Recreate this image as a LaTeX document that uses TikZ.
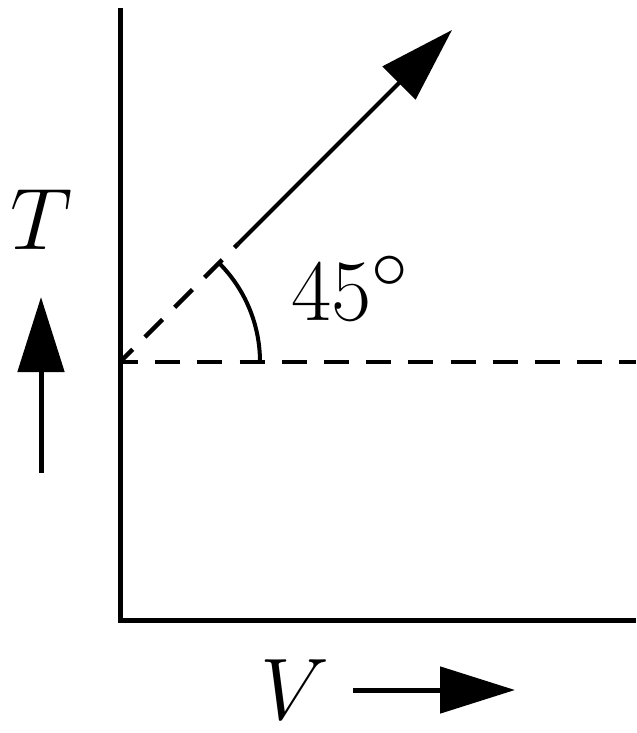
\documentclass[tikz,border=0pt]{standalone}
\usepackage{tikz}
\usetikzlibrary{arrows.meta}

\begin{document}
\begin{tikzpicture}[
  x=0.1mm, y=-0.1mm,
  font=\fontsize{31}{37}\selectfont,
  axis/.style={line width=0.5mm},
  guide/.style={line width=0.45mm, dash pattern=on 2.5mm off 1.72mm, dash phase=0.7mm},
  arr/.style={-{Triangle[length=7.5mm, width=4.6mm]}, line width=0.5mm},
  lbl/.style={inner sep=0pt, anchor=base},
]
  \useasboundingbox (0,0) rectangle (636,733);
  \coordinate (top)  at (120,8);
  \coordinate (orig) at (120,620);
  \coordinate (xend) at (636,620);
  \coordinate (p0)   at (120,362);
  \coordinate (pr)   at (636,362);
  \coordinate (pm)   at (238,244);
  \coordinate (tip)  at (452,30);
  \coordinate (a0)   at (260,362);
  \draw[axis] (top) -- (orig) -- (xend);
  \draw[guide] (p0) -- (pr);
  \draw[guide] (p0) -- (pm);
  \draw[arr, line width=0.4mm] (pm) -- (tip);
  \draw[line width=0.4mm] (a0) arc[start angle=0, end angle=45, radius=14mm];
  \node[lbl] (tl) at (42,250) {$T$};
  \node[lbl] (vl) at (295,719) {$V$};
  \node[lbl, anchor=base west] (al) at (291,320) {$45^\circ$};
  \coordinate (tu0) at (41,473);
  \coordinate (tu1) at (41,297);
  \coordinate (vr0) at (353,690);
  \coordinate (vr1) at (515,690);
  \draw[arr] (tu0) -- (tu1);
  \draw[arr] (vr0) -- (vr1);
\end{tikzpicture}
\end{document}
